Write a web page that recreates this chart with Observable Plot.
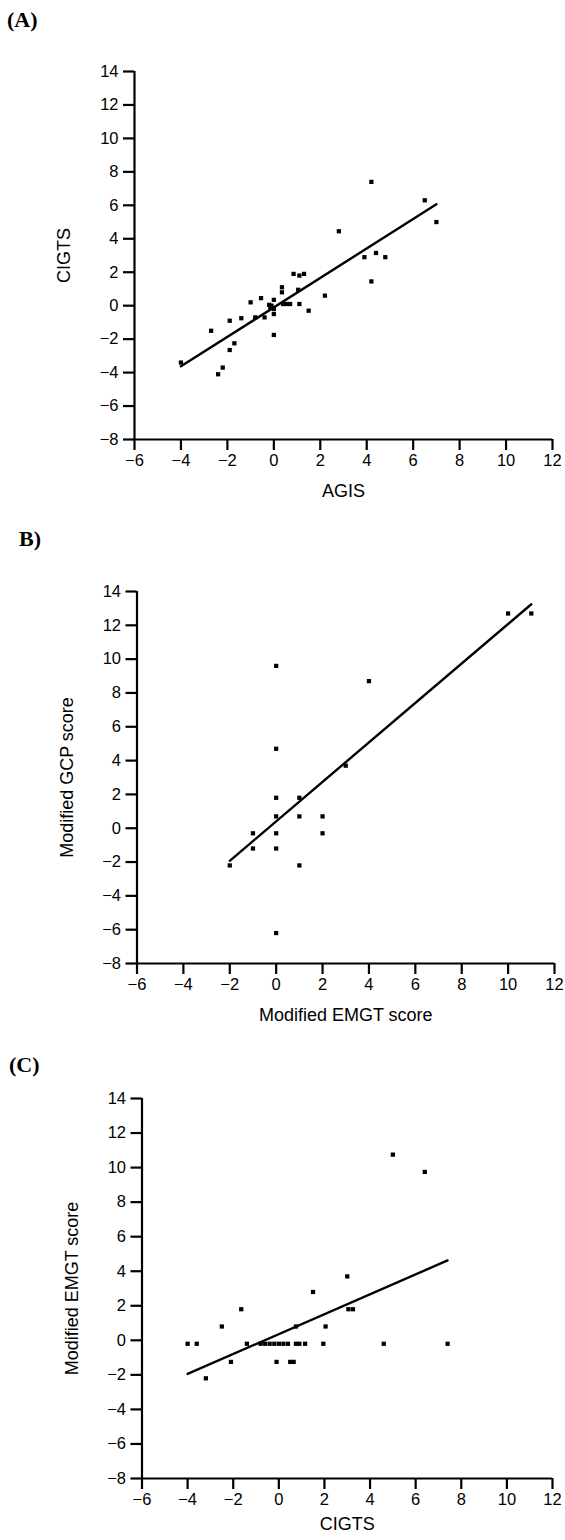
<!DOCTYPE html>
<html><head><meta charset="utf-8">
<script src="https://cdn.jsdelivr.net/npm/d3@7"></script>
<script src="https://cdn.jsdelivr.net/npm/@observablehq/plot@0.6"></script>
<style>
body{margin:0;background:#fff;}
#wrap{position:relative;width:565px;height:1540px;overflow:hidden;background:#fff;}
.plab{position:absolute;font-family:"Liberation Serif","Times New Roman",serif;font-weight:bold;font-size:22px;color:#000;line-height:1;}
.panel{position:absolute;left:0;}
</style></head><body><div id="wrap"></div>
<script>
const xTicks = [-6,-4,-2,0,2,4,6,8,10,12];
const yTicks = [-8,-6,-4,-2,0,2,4,6,8,10,12,14];
const panelLabels = ["(A)","B)","(C)"];

// Panel A: AGIS vs CIGTS
const agisA  = [4.2, 6.5, 7.0, 2.8, 3.9, 4.4, 4.8, 4.2, 0.85, 1.1, 1.3, 0.35, 0.35, 1.05, 2.2, 0.4, 0.55, 0.7, 1.1, 1.5, 0, -0.2, -0.1, 0, 0, -0.15, -0.55, -1.0, -0.4, -0.8, -1.4, -1.9, -2.7, 0, -1.7, -1.9, -2.2, -2.4, -4.0];
const cigtsA = [7.4, 6.3, 5.0, 4.45, 2.9, 3.15, 2.9, 1.45, 1.9, 1.8, 1.9, 1.1, 0.8, 0.95, 0.6, 0.1, 0.1, 0.1, 0.1, -0.3, 0.35, 0.05, 0.0, -0.2, -0.5, -0.1, 0.45, 0.2, -0.7, -0.7, -0.75, -0.9, -1.5, -1.75, -2.25, -2.65, -3.7, -4.1, -3.4];

// Panel B: Modified EMGT score vs Modified GCP score
const emgtB = [0, 4, 0, 0, 1, 0, 1, 2, -1, 0, 2, -1, 0, -2, 1, 0, 3, 10, 11];
const gcpB  = [9.6, 8.7, 4.7, 1.8, 1.8, 0.7, 0.7, 0.7, -0.3, -0.3, -0.3, -1.2, -1.2, -2.2, -2.2, -6.2, 3.7, 12.7, 12.7];

// Panel C: CIGTS vs Modified EMGT score
const cigtsC = [-4.0, -3.6, -3.2, -2.5, -2.1, -1.65, -1.4, -0.8, -0.6, -0.4, -0.2, 0, 0.2, 0.4, 0.75, 0.75, 0.9, 1.15, -0.1, 0.5, 0.65, 1.95, 2.05, 3.05, 3.25, 4.6, 7.4, 5.0, 6.4, 3.0, 1.5];
const emgtC  = [-0.2, -0.2, -2.2, 0.8, -1.25, 1.8, -0.2, -0.2, -0.2, -0.2, -0.2, -0.2, -0.2, -0.2, 0.8, -0.2, -0.2, -0.2, -1.25, -1.25, -1.25, -0.2, 0.8, 1.8, 1.8, -0.2, -0.2, 10.75, 9.75, 3.7, 2.8];

const panels = [
  {xs: agisA, ys: cigtsA, xLabel: "AGIS", yLabel: "CIGTS", top: 0, mt: 71, ml: 134, mr: 13, plotBottom: 439, xdy: 52},
  {xs: emgtB, ys: gcpB, xLabel: "Modified EMGT score", yLabel: "Modified GCP score", top: 530, mt: 61, ml: 136.5, mr: 11, plotBottom: 963, xdy: 52},
  {xs: cigtsC, ys: emgtC, xLabel: "CIGTS", yLabel: "Modified EMGT score", top: 1060, mt: 38, ml: 141.5, mr: 13, plotBottom: 1478, xdy: 46}
];
const labelPos = [{left: 7, top: 9}, {left: 19, top: 528}, {left: 9, top: 1054}];

const wrap = document.getElementById("wrap");
panels.forEach((p, i) => {
  const data = p.xs.map((x, k) => ({x, y: p.ys[k]}));
  const mb = 60;
  const height = (p.plotBottom - p.top) + mb;
  const chart = Plot.plot({
    width: 565,
    height,
    marginTop: p.mt,
    marginLeft: p.ml,
    marginRight: p.mr,
    marginBottom: mb,
    x: {domain: [-6, 12]},
    y: {domain: [-8, 14]},
    style: {fontFamily: "Liberation Sans, Arial, sans-serif", fontSize: "16.5px", color: "black", background: "transparent", overflow: "visible"},
    marks: [
      Plot.axisX({ticks: xTicks, tickSize: 11, strokeWidth: 2.2, tickPadding: 4, label: null}),
      Plot.axisY({ticks: yTicks, tickSize: 11, strokeWidth: 2.2, tickPadding: 5, label: null}),
      Plot.ruleX([-6], {strokeWidth: 2.2}),
      Plot.ruleY([-8], {strokeWidth: 2.2}),
      Plot.linearRegressionY(data, {x: "x", y: "y", ci: 0, stroke: "black", strokeWidth: 2.4}),
      Plot.dot(data, {x: "x", y: "y", symbol: "square", r: 2.4, fill: "black"}),
      Plot.text([p.xLabel], {text: d => d, frameAnchor: "bottom", dy: p.xdy, fontSize: 18, textAnchor: "middle", lineAnchor: "middle"}),
      Plot.text([p.yLabel], {text: d => d, frameAnchor: "left", dx: -70, rotate: -90, fontSize: 18, textAnchor: "middle", lineAnchor: "middle"})
    ]
  });
  chart.classList.add("panel");
  chart.style.top = p.top + "px";
  wrap.appendChild(chart);
  const lab = document.createElement("div");
  lab.className = "plab";
  lab.textContent = panelLabels[i];
  lab.style.left = labelPos[i].left + "px";
  lab.style.top = labelPos[i].top + "px";
  wrap.appendChild(lab);
});
</script></body></html>
